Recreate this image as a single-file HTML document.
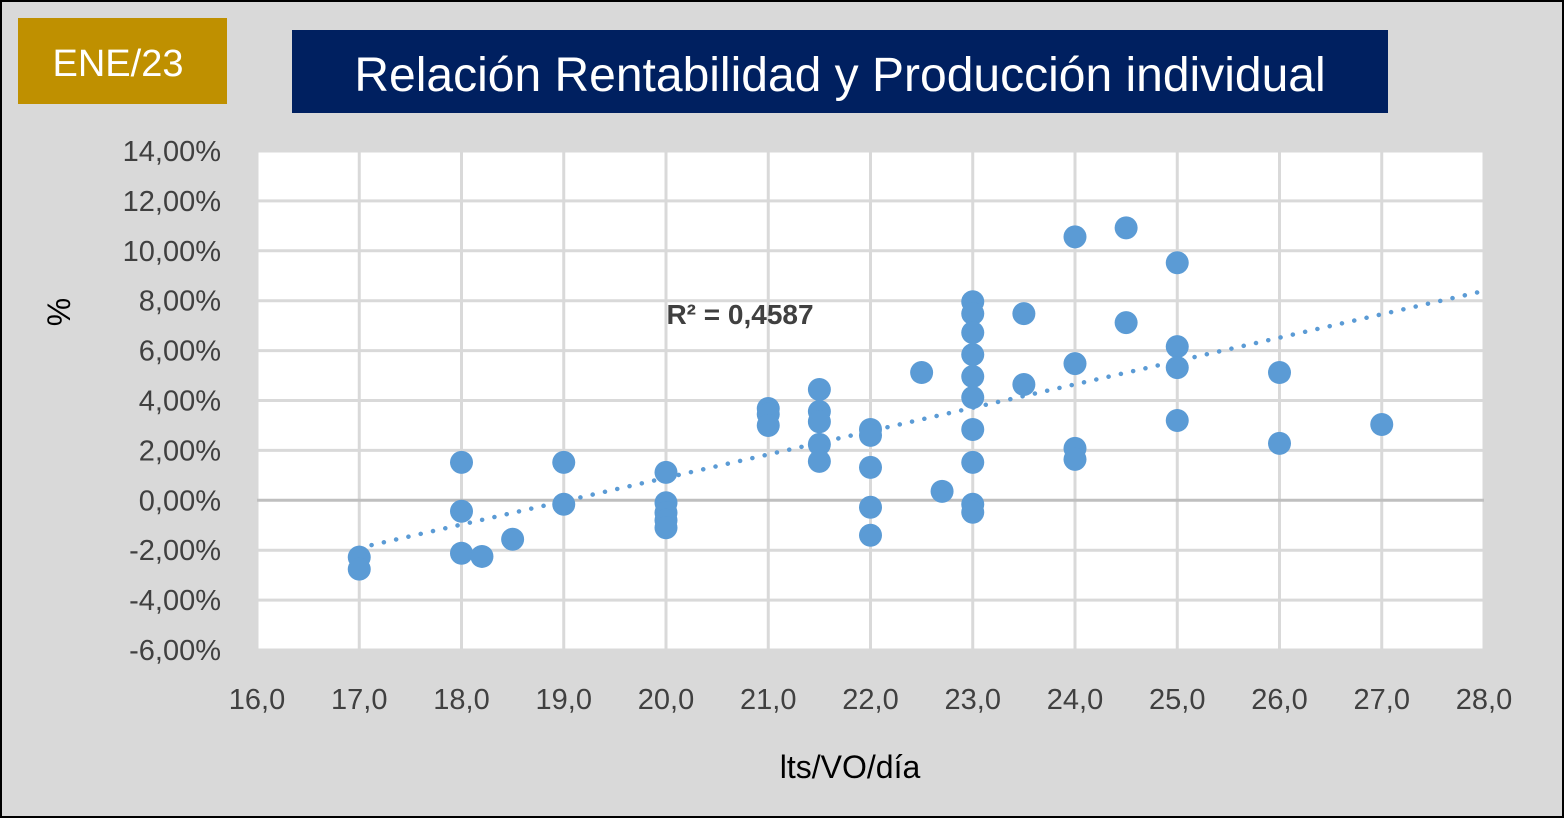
<!DOCTYPE html>
<html><head><meta charset="utf-8"><style>
html,body{margin:0;padding:0;}
body{width:1565px;height:819px;overflow:hidden;font-family:"Liberation Sans",sans-serif;}
</style></head><body>
<svg width="1565" height="819" xmlns="http://www.w3.org/2000/svg">
<rect x="1" y="1" width="1562" height="816" fill="#d9d9d9" stroke="#000" stroke-width="2"/>
<rect x="18" y="18" width="209" height="86" fill="#bf9000"/>
<text x="118" y="76" text-anchor="middle" font-size="38" fill="#fff">ENE/23</text>
<rect x="292" y="30" width="1096" height="83" fill="#002060"/>
<text x="840" y="91" text-anchor="middle" font-size="48" fill="#fff">Relación Rentabilidad y Producción individual</text>
<rect x="257" y="151" width="1227" height="499" fill="#fff"/>
<g id="grid"></g><g id="axes"></g><g id="trend"></g><g id="pts"></g>
<text x="740" y="324" text-anchor="middle" font-size="28" font-weight="bold" fill="#404040">R² = 0,4587</text>
<text x="850" y="778" text-anchor="middle" font-size="32" fill="#000">lts/VO/día</text>
<text transform="translate(70,312) rotate(-90)" text-anchor="middle" font-size="32" fill="#000">%</text>
</svg>
<script>
const xTicks=[16,17,18,19,20,21,22,23,24,25,26,27,28];
const yTicks=[-6,-4,-2,0,2,4,6,8,10,12,14];
const xValues=[17,17,18,18,18,18.2,18.5,19,19,20,20,20,20,20,21,21,21,21.5,21.5,21.5,21.5,21.5,22,22,22,22,22,22.5,22.7,23,23,23,23,23,23,23,23,23,23,23.5,23.5,24,24,24,24,24.5,24.5,25,25,25,25,26,26,27];
const yValues=[-2.28,-2.76,1.52,-0.44,-2.12,-2.25,-1.56,1.52,-0.16,1.12,-0.1,-0.5,-0.8,-1.1,3.68,3.45,3.0,4.44,3.56,3.15,2.24,1.56,2.84,2.6,1.32,-0.28,-1.4,5.12,0.36,7.96,7.48,6.72,5.84,4.96,4.12,2.84,1.52,-0.16,-0.48,7.48,4.64,10.56,5.48,2.08,1.64,10.92,7.12,9.52,6.16,5.32,3.2,5.12,2.28,3.04];
const NS="http://www.w3.org/2000/svg";
const X=v=>257+(v-16)*1227/12, Y=v=>650-(v+6)*499/20;
function mk(t,a,p){const e=document.createElementNS(NS,t);for(const k in a)e.setAttribute(k,a[k]);document.getElementById(p).appendChild(e);return e;}
xTicks.forEach(t=>{
 const l=mk('line',{x1:X(t),x2:X(t),y1:151,y2:650,stroke:'#d9d9d9','stroke-width':3},'grid');
 
 
 const tx=mk('text',{x:X(t),y:709,'text-anchor':'middle','font-size':29,fill:'#404040'},'axes');
 tx.textContent=t.toFixed(1).replace('.',',');
 
 
});
yTicks.forEach(t=>{
 const l=mk('line',{x1:257,x2:1484,y1:Y(t),y2:Y(t),stroke:t===0?'#bfbfbf':'#d9d9d9','stroke-width':3},'grid');
 
 
 const tx=mk('text',{x:221,y:Y(t)+10,'text-anchor':'end','font-size':29,fill:'#404040'},'axes');
 tx.textContent=t.toFixed(2).replace('.',',')+'%';
 
 
});
// linear regression trendline
const n=xValues.length;let sx=0,sy=0,sxx=0,sxy=0;
for(let i=0;i<n;i++){sx+=xValues[i];sy+=yValues[i];sxx+=xValues[i]*xValues[i];sxy+=xValues[i]*yValues[i];}
const b=(n*sxy-sx*sy)/(n*sxx-sx*sx),a=(sy-b*sx)/n;
const tl=mk('line',{x1:X(17),y1:Y(a+b*17),x2:X(28),y2:Y(a+b*28),stroke:'#5b9bd5','stroke-width':4.5,'stroke-dasharray':'0.1 12.5','stroke-linecap':'round'},'trend');


xValues.forEach((x,i)=>{
 const c=mk('circle',{cx:X(x),cy:Y(yValues[i]),r:11.5,fill:'#5b9bd5'},'pts');
 
 
});
</script>
</body></html>
